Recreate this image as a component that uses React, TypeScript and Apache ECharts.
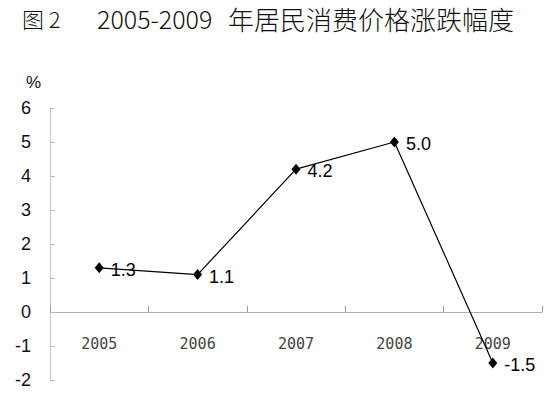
import React, { useEffect, useRef } from "react";
import * as echarts from "echarts";

const years = ["2005", "2006", "2007", "2008", "2009"];
const cpiChange = [1.3, 1.1, 4.2, 5.0, -1.5];
const yMin = -2;
const yMax = 6;
const yInterval = 1;
const titleFig = "图 2";
const titleYears = "2005-2009";
const titleText = "年居民消费价格涨跌幅度";
const unitLabel = "%";

export default function App() {
  const ref = useRef<HTMLDivElement>(null);
  useEffect(() => {
    if (!ref.current) return;
    const chart = echarts.init(ref.current, null, { renderer: "svg" });
    chart.setOption({
      animation: false,
      backgroundColor: "#ffffff",
      grid: { left: 50, right: 7, top: 108, bottom: 14, containLabel: false, outerBoundsMode: "none" },
      graphic: [
        {
          type: "text",
          left: 22,
          top: 7,
          style: { text: titleFig, font: '300 22px "Noto Sans CJK SC"', fill: "#111" },
        },
        {
          type: "text",
          left: 97,
          top: 5,
          style: { text: titleYears, font: '300 25px "Noto Sans CJK SC"', fill: "#111" },
        },
        {
          type: "text",
          left: 228,
          top: 5,
          style: { text: titleText, font: '300 26px "Noto Sans CJK SC"', fill: "#111" },
        },
        {
          type: "text",
          left: 26,
          top: 74,
          style: { text: unitLabel, font: '17px "Liberation Sans"', fill: "#111" },
        },
      ],
      xAxis: {
        type: "category",
        data: years,
        boundaryGap: true,
        offset: -68,
        axisLine: { onZero: false, lineStyle: { color: "#b0b0b0", width: 1 } },
        axisTick: { show: true, inside: true, length: 6, lineStyle: { color: "#999" } },
        axisLabel: {
          margin: 24,
          fontSize: 15,
          fontFamily: "DejaVu Sans Mono",
          color: "#444",
        },
        splitLine: { show: false },
      },
      yAxis: {
        type: "value",
        min: yMin,
        max: yMax,
        interval: yInterval,
        axisLine: { show: true, lineStyle: { color: "#c8c8c8", width: 1 } },
        axisTick: { show: true, inside: true, length: 5, lineStyle: { color: "#bbb" } },
        axisLabel: {
          margin: 19,
          fontSize: 18,
          fontFamily: "Liberation Sans",
          color: "#111",
        },
        splitLine: { show: false },
      },
      series: [
        {
          type: "line",
          data: cpiChange,
          symbol: "diamond",
          symbolSize: [9, 11],
          lineStyle: { color: "#000", width: 1.2 },
          itemStyle: { color: "#000" },
          label: {
            show: true,
            position: "right",
            distance: 7,
            offset: [0, 2],
            fontSize: 18,
            fontFamily: "Liberation Sans",
            color: "#000",
            formatter: (p: any) => Number(p.value).toFixed(1),
          },
        },
      ],
    });
    return () => chart.dispose();
  }, []);
  return <div ref={ref} style={{ width: 549, height: 394, position: "fixed", left: 0, top: 0 }} />;
}
